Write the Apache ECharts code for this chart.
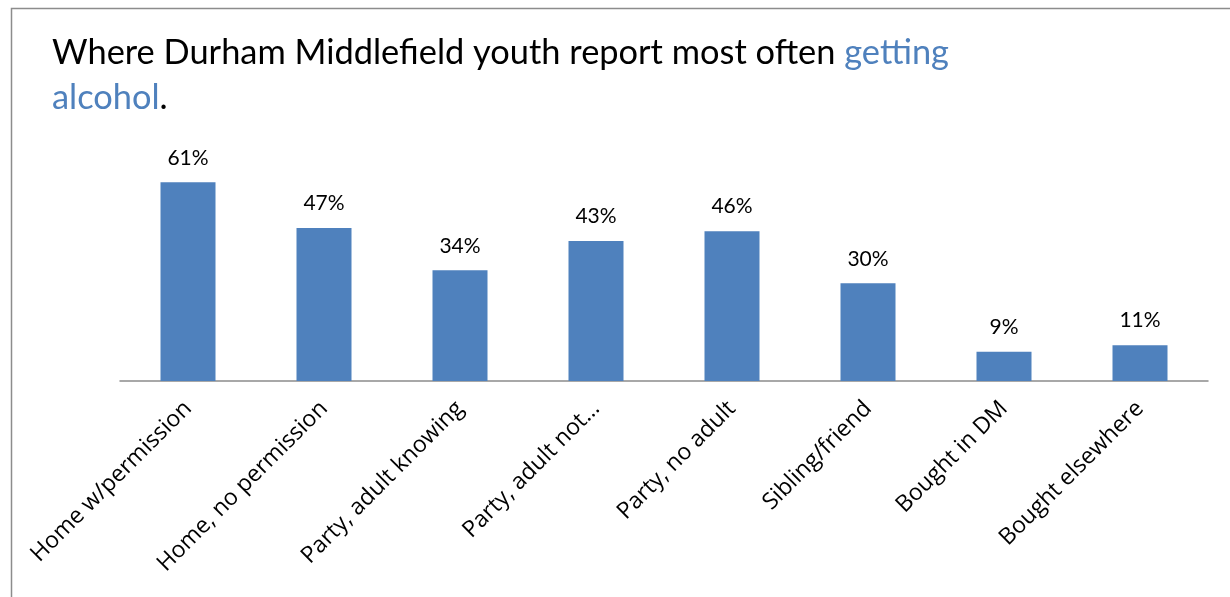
<!DOCTYPE html>
<html>
<head>
<meta charset="utf-8">
<script src="https://cdn.jsdelivr.net/npm/echarts@6/dist/echarts.min.js"></script>
<style>
  html, body { margin: 0; padding: 0; background: #fff; }
  #chart { width: 1230px; height: 597px; }
</style>
</head>
<body>
<div id="chart"></div>
<script>
// Sources of alcohol reported by youth (percent of respondents)
const categories = [
  'Home w/permission',
  'Home, no permission',
  'Party, adult knowing',
  'Party, adult not…',
  'Party, no adult',
  'Sibling/friend',
  'Bought in DM',
  'Bought elsewhere'
];
const percentValues = [61, 47, 34, 43, 46, 30, 9, 11];

const chart = echarts.init(document.getElementById('chart'));
const FONT = 'Lato, "Open Sans", sans-serif';

chart.setOption({
  animation: false,
  backgroundColor: '#ffffff',
  title: {
    left: 47,
    top: 25,
    text: '{k|Where Durham Middlefield youth report most often }{b|getting}\n{b|alcohol}{k|.}',
    textStyle: {
      fontWeight: 'normal',
      rich: {
        k: { color: '#000000', fontSize: 34.4, fontWeight: 'normal', fontFamily: FONT, lineHeight: 45 },
        b: { color: '#4f81bd', fontSize: 34.4, fontWeight: 'normal', fontFamily: FONT, lineHeight: 45 }
      }
    }
  },
  graphic: [{
    type: 'rect',
    shape: { x: 11.5, y: 8.5, width: 1400, height: 800 },
    style: { fill: 'none', stroke: '#8c8c8c', lineWidth: 1.5 },
    silent: true
  }],
  grid: { left: 120, right: 22, top: 153, bottom: 216 },
  xAxis: {
    type: 'category',
    data: categories,
    axisLine: { lineStyle: { color: '#8c8c8c', width: 1.5 } },
    axisTick: { show: false },
    axisLabel: {
      rotate: 45,
      interval: 0,
      margin: 24,
      color: '#000000',
      fontSize: 23,
      fontFamily: '"Open Sans", sans-serif'
    }
  },
  yAxis: {
    type: 'value',
    min: 0,
    max: 70,
    show: false,
    splitLine: { show: false }
  },
  series: [{
    type: 'bar',
    data: percentValues,
    barWidth: 55,
    itemStyle: { color: '#4f81bd' },
    label: {
      show: true,
      position: 'top',
      distance: 14,
      formatter: p => p.value + '%',
      color: '#000000',
      fontSize: 21,
      fontFamily: FONT
    }
  }]
});
</script>
</body>
</html>
